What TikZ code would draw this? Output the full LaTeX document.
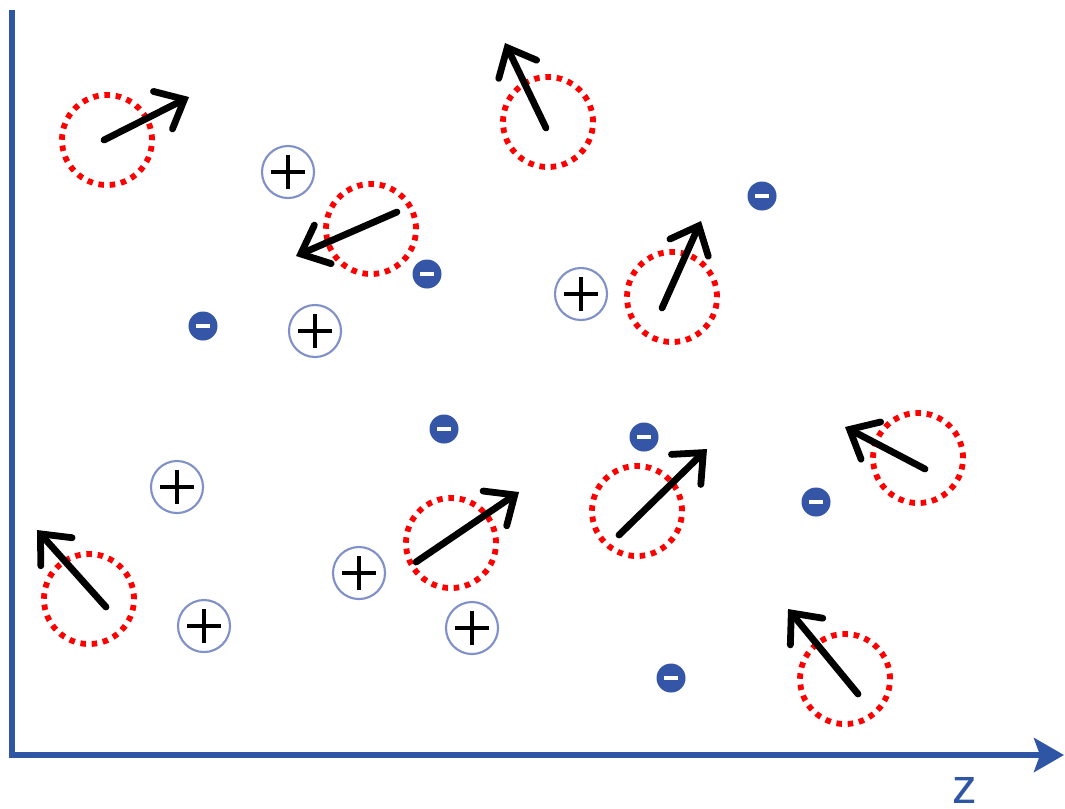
\documentclass[tikz,border=0pt]{standalone}
\usepackage{fontspec}
\setmainfont{Liberation Sans}
\usetikzlibrary{arrows.meta}
\definecolor{axisblue}{HTML}{2F55A5}
\definecolor{ionblue}{HTML}{3556A6}
\definecolor{ringblue}{HTML}{8090C8}
\definecolor{dotred}{HTML}{FF0000}
\tikzset{
  dipole/.style={circle, minimum size=0.9cm, inner sep=0pt, draw=dotred,
    line width=0.058cm, dash pattern=on 0.055cm off 0.058cm},
  spin/.style={line width=0.068cm, line cap=round, black,
    -{Straight Barb[length=0.24cm, width=0.42cm, line cap=round, line join=miter]}},
  posion/.style={circle, minimum size=0.52cm, inner sep=0pt, draw=ringblue, line width=0.6pt,
    path picture={
      \draw[line width=0.038cm, black] ([xshift=-0.17cm]path picture bounding box.center) -- ([xshift=0.17cm]path picture bounding box.center);
      \draw[line width=0.038cm, black] ([yshift=-0.17cm]path picture bounding box.center) -- ([yshift=0.17cm]path picture bounding box.center);
    }},
  negion/.style={circle, minimum size=0.29cm, inner sep=0pt, fill=ionblue,
    path picture={
      \fill[white] ([xshift=-0.07cm,yshift=-0.02cm]path picture bounding box.center) rectangle ([xshift=0.07cm,yshift=0.02cm]path picture bounding box.center);
    }},
  axisline/.style={line width=0.055cm, axisblue}
}
\begin{document}
\begin{tikzpicture}[x=0.01cm, y=-0.01cm]
\useasboundingbox (0,0) rectangle (1065,808);
% axes
\coordinate (top) at (12,10);
\coordinate (origin) at (12,755);
\coordinate (zend) at (1064,755);
\draw[axisline] (top) -- (origin);
\draw[axisline, -{Stealth[length=0.3cm, width=0.34cm, inset=0.06cm]}] ([xshift=-0.027cm]origin) -- (zend);
\node[text=axisblue, font=\fontsize{14}{14}\selectfont, anchor=base] (zlab) at (965,803) {z};
% dipoles
\node[dipole] (d1) at (107,140) {};
\node[dipole] (d2) at (548,122) {};
\node[dipole] (d3) at (371,229) {};
\node[dipole] (d4) at (672,297) {};
\node[dipole] (d5) at (918,458) {};
\node[dipole] (d6) at (637,511) {};
\node[dipole] (d7) at (451,543) {};
\node[dipole] (d8) at (89,599) {};
\node[dipole] (d9) at (845,679) {};
% spin arrows
\coordinate (s1) at (104,140); \coordinate (e1) at (189,97);
\coordinate (s2) at (546,128); \coordinate (e2) at (505,43);
\coordinate (s3) at (397,212); \coordinate (e3) at (296,256);
\coordinate (s4) at (662,308); \coordinate (e4) at (701,221);
\coordinate (s5) at (925,469); \coordinate (e5) at (845,427);
\coordinate (s6) at (619,535); \coordinate (e6) at (707,449);
\coordinate (s7) at (416,562); \coordinate (e7) at (519,492);
\coordinate (s8) at (106,607); \coordinate (e8) at (37,530);
\coordinate (s9) at (858,694); \coordinate (e9) at (788,609);
\foreach \i in {1,...,9} \draw[spin] (s\i) -- (e\i);
% positive ions
\node[posion] (p1) at (288,172) {};
\node[posion] (p2) at (315,331) {};
\node[posion] (p3) at (581,294) {};
\node[posion] (p4) at (177,487) {};
\node[posion] (p5) at (359,573) {};
\node[posion] (p6) at (204,626) {};
\node[posion] (p7) at (472,628) {};
% negative ions
\node[negion] (n1) at (762,196) {};
\node[negion] (n2) at (427,274) {};
\node[negion] (n3) at (203,326) {};
\node[negion] (n4) at (444,429) {};
\node[negion] (n5) at (644,437) {};
\node[negion] (n6) at (816,502) {};
\node[negion] (n7) at (671,678) {};
\end{tikzpicture}
\end{document}
